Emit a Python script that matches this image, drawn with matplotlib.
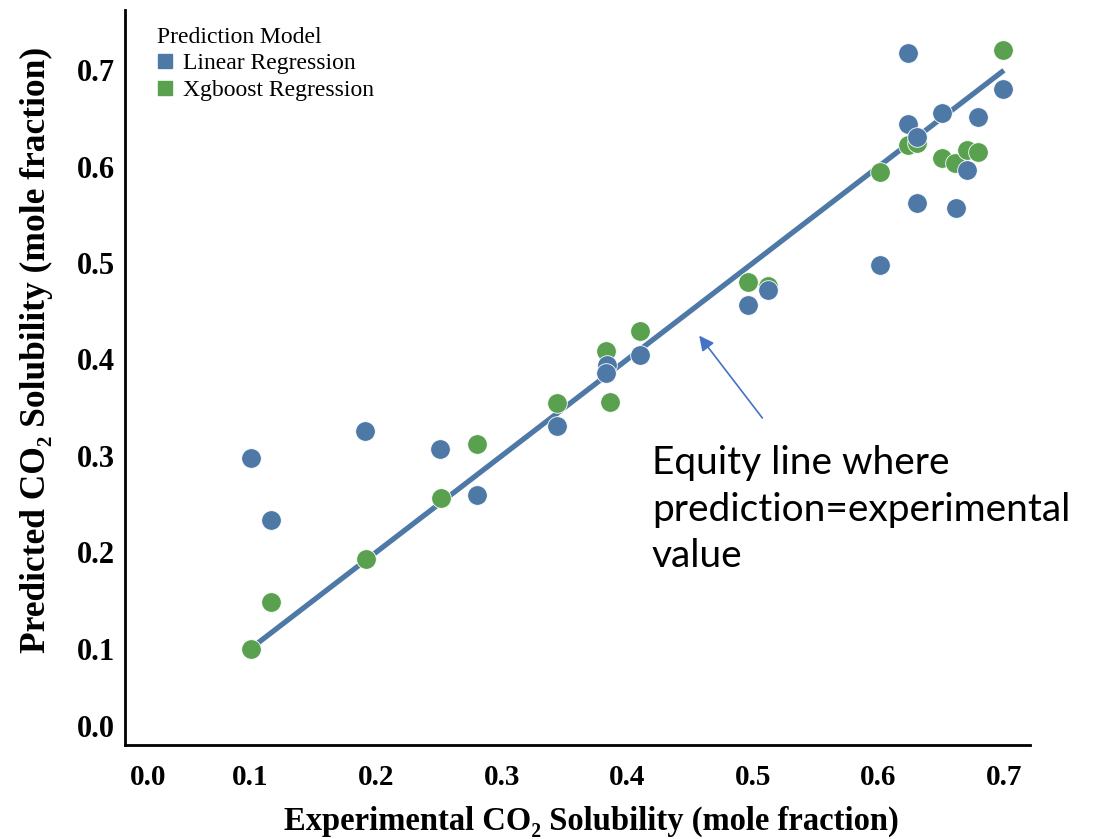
import numpy as np
import matplotlib.pyplot as plt
from matplotlib.lines import Line2D
from matplotlib.transforms import ScaledTranslation

# experimental vs predicted CO2 solubility (mole fraction)
lin_exp = [0.100, 0.116, 0.191, 0.251, 0.280, 0.344, 0.384, 0.383, 0.410, 0.496,
           0.512, 0.601, 0.624, 0.624, 0.631, 0.651, 0.679, 0.699, 0.671, 0.631, 0.662]
lin_pred = [0.298, 0.233, 0.326, 0.307, 0.259, 0.331, 0.394, 0.386, 0.405, 0.456,
            0.472, 0.498, 0.718, 0.644, 0.631, 0.656, 0.652, 0.681, 0.597, 0.562, 0.557]

xgb_exp = [0.100, 0.116, 0.192, 0.252, 0.280, 0.344, 0.383, 0.386, 0.410, 0.496,
           0.512, 0.601, 0.624, 0.631, 0.651, 0.661, 0.671, 0.679, 0.699]
xgb_pred = [0.100, 0.148, 0.193, 0.256, 0.312, 0.355, 0.409, 0.356, 0.430, 0.480,
            0.476, 0.595, 0.622, 0.625, 0.609, 0.604, 0.617, 0.615, 0.721]

equity = [0.1, 0.7]
ticks = [0.0, 0.1, 0.2, 0.3, 0.4, 0.5, 0.6, 0.7]

blue = "#4e79a7"
green = "#59a14f"
serif = ["Liberation Serif", "DejaVu Serif"]

fig = plt.figure(figsize=(11.04, 8.39), dpi=100)
ax = fig.add_axes([0.1132, 0.112, 0.82, 0.876])

ax.plot(equity, equity, color=blue, lw=3.8, solid_capstyle="butt", zorder=1)
ax.scatter(xgb_exp, xgb_pred, s=200, color=green, edgecolor="white", linewidth=0.6, zorder=2)
ax.scatter(lin_exp, lin_pred, s=200, color=blue, edgecolor="white", linewidth=0.6, zorder=3)

ax.set_xlim(0, 0.721)
ax.set_ylim(0, 0.7625)
ax.set_xticks(ticks)
ax.set_yticks(ticks)
ax.set_xticklabels([f"{t:.1f}" for t in ticks], family=serif, weight="bold", fontsize=21)
ax.set_yticklabels([f"{t:.1f}" for t in ticks], family=serif, weight="bold", fontsize=22)
ax.tick_params(length=0, pad=14)
ax.tick_params(axis="y", pad=7)

# shift the zero labels off the corner
xl0 = ax.get_xticklabels()[0]
xl0.set_transform(xl0.get_transform() + ScaledTranslation(23 / 100, 0, fig.dpi_scale_trans))
yl0 = ax.get_yticklabels()[0]
yl0.set_transform(yl0.get_transform() + ScaledTranslation(0, 19 / 100, fig.dpi_scale_trans))

for side in ["top", "right"]:
    ax.spines[side].set_visible(False)
for side in ["left", "bottom"]:
    ax.spines[side].set_linewidth(2)
    ax.spines[side].set_color("black")

ax.set_xlabel("Experimental CO\u2082 Solubility (mole fraction)", family=serif,
              weight="bold", fontsize=23.5)
ax.set_ylabel("Predicted CO\u2082 Solubility (mole fraction)", family=serif,
              weight="bold", fontsize=25.5)
ax.xaxis.set_label_coords(0.515, -0.082)
ax.yaxis.set_label_coords(-0.079, 0.537)

handles = [Line2D([], [], ls="none", marker="s", ms=10, color=blue),
           Line2D([], [], ls="none", marker="s", ms=10, color=green)]
leg = ax.legend(handles, ["Linear Regression", "Xgboost Regression"], title="Prediction Model",
                loc="upper left", bbox_to_anchor=(0.017, 1.0), frameon=False,
                prop={"family": serif, "size": 17}, title_fontproperties={"family": serif, "size": 17},
                alignment="left", handlelength=0.7, handletextpad=0.4, labelspacing=0.22,
                borderaxespad=0.3)

ax.annotate("", xy=(0.456, 0.427), xytext=(0.509, 0.337),
            arrowprops=dict(arrowstyle="-|>", color="#4472c4", lw=1.2, mutation_scale=22))
ax.text(0.4196, 0.311, "Equity line where\nprediction=experimental\nvalue", family="Lato",
        fontsize=28, va="top", ha="left", linespacing=1.36)

fig.savefig("out.png", dpi=100)
